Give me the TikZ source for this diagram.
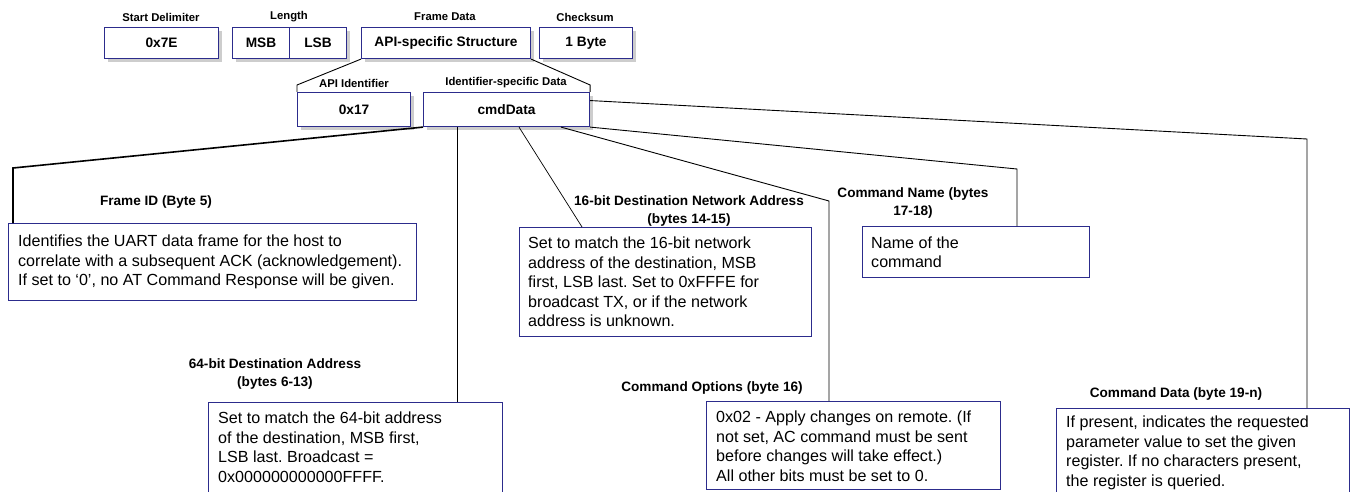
\documentclass[tikz,border=0pt]{standalone}
\usepackage{fontspec}
\setmainfont{Liberation Sans}
\usetikzlibrary{shadows,calc}
\definecolor{boxblue}{RGB}{44,44,140}
\definecolor{shadowgray}{RGB}{205,205,205}
\frenchspacing
\begin{document}
\begin{tikzpicture}[x=1pt,y=-1pt,
  topbox/.style={draw=boxblue, line width=1.1pt, fill=white, anchor=north west, inner sep=0pt,
    general shadow={fill=shadowgray, shadow xshift=3pt, shadow yshift=-3pt},
    font=\fontsize{13.7}{16}\selectfont\bfseries},
  toplabel/.style={font=\fontsize{11.3}{13}\selectfont\bfseries, inner sep=0pt},
  descbox/.style={draw=boxblue, line width=1.1pt, fill=white, anchor=north west, inner sep=0pt},
  desctext/.style={font=\fontsize{16.1}{19.5}\selectfont, align=left, inner sep=0pt},
  desclabel/.style={font=\fontsize{13.6}{18}\selectfont\bfseries, align=center, inner sep=0pt},
  conn/.style={draw=black, line width=0.9pt},
  thickconn/.style={draw=black, line width=1.6pt},
]
\useasboundingbox (0,0) rectangle (1350,492);
\clip (0,0) rectangle (1350,492);
\fill[white] (0,0) rectangle (1350,492);

% top level frame
\node[topbox, minimum width=114pt, minimum height=31pt] (sd) at (104,27) {0x7E};
\node[topbox, minimum width=57pt, minimum height=31pt] (msb) at (232,27) {MSB};
\node[topbox, minimum width=57pt, minimum height=31pt] (lsb) at (289,27) {LSB};
\node[topbox, minimum width=169pt, minimum height=31pt] (fd) at (361,27) {API-specific Structure};
\node[topbox, minimum width=93pt, minimum height=31pt] (cs) at (539,27) {1 Byte};

\node[toplabel] (sdl) at (161,17) {Start Delimiter};
\node[toplabel] (lenl) at (289,17) {Length};
\node[toplabel] (fdl) at (445,17) {Frame Data};
\node[toplabel] (csl) at (585,17) {Checksum};

% second level
\node[topbox, minimum width=113pt, minimum height=34pt] (api) at (297,92) {0x17};
\node[topbox, minimum width=166pt, minimum height=34pt] (cmd) at (423,92) {cmdData};
\node[toplabel] (apil) at (354,83) {API Identifier};
\node[toplabel] (cmdl) at (506,83) {Identifier-specific Data};

\draw[conn] (fd.south west) -- ([yshift=7pt]api.north west) -- (api.north west);
\draw[conn] (fd.south east) -- ([yshift=7pt]cmd.north east) -- (cmd.north east);

% description boxes
\node[descbox, minimum width=408pt, minimum height=77pt] (fid) at (8,223) {};
\node[desctext, anchor=west] (fidt) at ([xshift=10pt]fid.west)
  {Identifies the UART data frame for the host to\\correlate with a subsequent ACK (acknowledgement).\\If set to `0', no AT Command Response will be given.};
\node[desclabel] (fidl) at (156,202) {Frame ID (Byte 5)};

\node[descbox, minimum width=292pt, minimum height=109pt] (b16) at (519,227) {};
\node[desctext, anchor=west] (b16t) at ([xshift=9pt]b16.west)
  {Set to match the 16-bit network\\address of the destination, MSB\\first, LSB last. Set to 0xFFFE for\\broadcast TX, or if the network\\address is unknown.};
\node[desclabel] (b16l) at (689,211) {16-bit Destination Network Address\\(bytes 14-15)};

\node[descbox, minimum width=227pt, minimum height=51pt] (bname) at (862,226) {};
\node[desctext, anchor=west] (namet) at ([xshift=9pt]bname.west) {Name of the\\command};
\node[desclabel] (namel) at (913,202.5) {Command Name (bytes\\17-18)};

\node[descbox, minimum width=294pt, minimum height=120pt] (b64) at (208,402) {};
\node[desctext, anchor=north west] (b64t) at ([xshift=10pt,yshift=-10pt]b64.north west)
  {Set to match the 64-bit address\\of the destination, MSB first,\\LSB last. Broadcast =\\0x000000000000FFFF.};
\node[desclabel] (b64l) at (275,374) {64-bit Destination Address\\(bytes 6-13)};

\node[descbox, minimum width=294pt, minimum height=88pt] (bopt) at (706,401) {};
\node[desctext, anchor=north west] (optt) at ([xshift=10pt,yshift=-10pt]bopt.north west)
  {0x02 - Apply changes on remote. (If\\not set, AC command must be sent\\before changes will take effect.)\\All other bits must be set to 0.};
\node[desclabel] (optl) at (712,388) {Command Options (byte 16)};

\node[descbox, minimum width=293pt, minimum height=120pt] (bdata) at (1056,408) {};
\node[desctext, anchor=north west] (datat) at ([xshift=10pt,yshift=-8pt]bdata.north west)
  {If present, indicates the requested\\parameter value to set the given\\register. If no characters present,\\the register is queried.};
\node[desclabel] (datal) at (1176,394) {Command Data (byte 19-n)};

% connectors from cmdData
\coordinate (fidelbow) at (13,168);
\draw[thickconn] (cmd.south west) -- (fidelbow) -- (fidelbow |- fid.north);

\coordinate (c64) at ([xshift=34pt]cmd.south west);
\draw[conn] (c64) -- (c64 |- b64.north);

\coordinate (c16) at ([xshift=96pt]cmd.south west);
\draw[conn, line width=0.7pt] (c16) -- ([xshift=63pt]b16.north west);

\coordinate (copt) at ([xshift=138pt]cmd.south west);
\coordinate (optelbow) at (829,201);
\draw[conn] (copt) -- (optelbow) -- (optelbow |- bopt.north);

\coordinate (nameelbow) at (1017,169);
\draw[conn] (cmd.south east) -- (nameelbow) -- (nameelbow |- bname.north);

\coordinate (dataelbow) at (1307,139);
\draw[conn] ([yshift=9pt]cmd.east) -- (dataelbow) -- (dataelbow |- bdata.north);
\end{tikzpicture}
\end{document}
